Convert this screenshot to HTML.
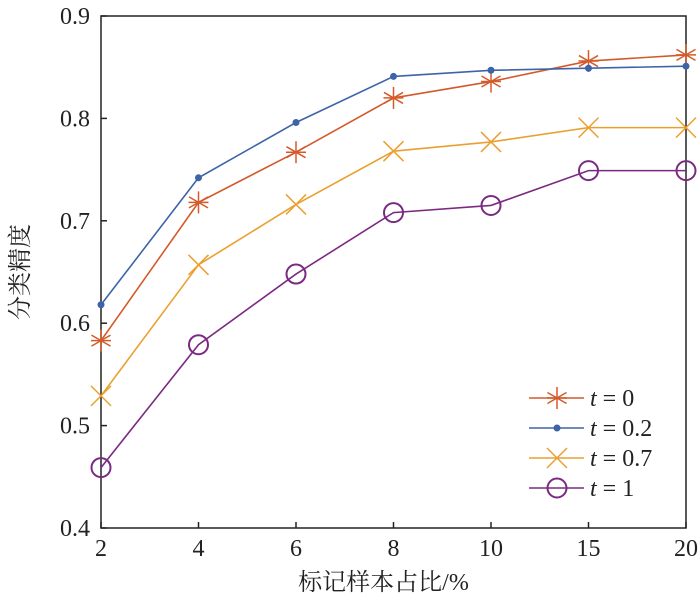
<!DOCTYPE html>
<html><head><meta charset="utf-8"><style>
body{margin:0;background:#fff}
svg text{font-family:"Liberation Serif","Noto Serif CJK SC",serif;font-size:24px;fill:#222}
</style></head><body>
<svg id="chart" width="700" height="604" viewBox="0 0 700 604" xmlns="http://www.w3.org/2000/svg">
<g id="plot"></g>
</svg>
<script>
const categories=["2","4","6","8","10","15","20"];
const yTicks=[0.4,0.5,0.6,0.7,0.8,0.9];
const seriesT0=[0.583,0.718,0.767,0.820,0.836,0.856,0.862];
const seriesT02=[0.618,0.742,0.796,0.841,0.847,0.849,0.851];
const seriesT07=[0.529,0.657,0.716,0.768,0.777,0.791,0.791];
const seriesT1=[0.459,0.579,0.648,0.708,0.715,0.749,0.749];
const seriesLabels=["0","0.2","0.7","1"];

const L=101,R=686,T=16,B=528;
const xs=i=>L+i*(R-L)/(categories.length-1);
const ys=v=>B-(v-0.4)/0.5*(B-T);
const NS="http://www.w3.org/2000/svg";
const g=document.getElementById('plot');
function mk(tag,attrs,parent){const e=document.createElementNS(NS,tag);for(const k in attrs)e.setAttribute(k,attrs[k]);(parent||g).appendChild(e);return e;}

const frame=mk('rect',{x:L,y:T,width:R-L,height:B-T,fill:'none',stroke:'#222','stroke-width':1.5});


categories.forEach((c,i)=>{
  const t=mk('line',{x1:xs(i),x2:xs(i),y1:B,y2:B-6,stroke:'#222','stroke-width':1.5});
  
  
  const tx=mk('text',{x:xs(i),y:B+28,'text-anchor':'middle'});tx.textContent=c;
  
  
});
yTicks.forEach(v=>{
  const t=mk('line',{x1:L,x2:L+6,y1:ys(v),y2:ys(v),stroke:'#222','stroke-width':1.5});
  
  
  const tx=mk('text',{x:L-11,y:ys(v)+8,'text-anchor':'end'});tx.textContent=v.toFixed(1);
  
  
});
const xt=mk('text',{x:(L+R)/2-10,y:590,'text-anchor':'middle'});xt.textContent='标记样本占比/%';


const yt=mk('text',{x:0,y:0,'text-anchor':'middle',transform:`translate(28,${(T+B)/2}) rotate(-90)`});yt.textContent='分类精度';



const colors=['#d45a2a','#3e64a8','#eaa030','#7b2a82'];
const types=['star','dot','x','circle'];
function marker(type,x,y,c,p){
  if(type==='star'){
    for(const a of [0,60,120]){const r=a*Math.PI/180;mk('line',{x1:x-11*Math.sin(r),y1:y-11*Math.cos(r),x2:x+11*Math.sin(r),y2:y+11*Math.cos(r),stroke:c,'stroke-width':1.5},p);}
    mk('line',{x1:x-10,y1:y,x2:x+10,y2:y,stroke:c,'stroke-width':1.5},p);
  }else if(type==='dot'){mk('circle',{cx:x,cy:y,r:3.5,fill:c},p);}
  else if(type==='x'){mk('line',{x1:x-10,y1:y-10,x2:x+10,y2:y+10,stroke:c,'stroke-width':1.5},p);mk('line',{x1:x-10,y1:y+10,x2:x+10,y2:y-10,stroke:c,'stroke-width':1.5},p);}
  else{mk('circle',{cx:x,cy:y,r:9.5,fill:'none',stroke:c,'stroke-width':2},p);}
}
[seriesT0,seriesT02,seriesT07,seriesT1].forEach((s,k)=>{
  const sg=mk('g',{});
  
  
  mk('polyline',{points:s.map((v,i)=>xs(i)+','+ys(v)).join(' '),fill:'none',stroke:colors[k],'stroke-width':1.6},sg);
  s.forEach((v,i)=>marker(types[k],xs(i),ys(v),colors[k],sg));
  const ly=398+k*30;
  const lg=mk('g',{});
  
  
  mk('line',{x1:529,x2:584,y1:ly,y2:ly,stroke:colors[k],'stroke-width':1.6},lg);
  marker(types[k],557,ly,colors[k],lg);
  const tx=mk('text',{x:590,y:ly+8},lg);
  tx.innerHTML='<tspan font-style="italic">t</tspan> = '+seriesLabels[k];
});
</script>
</body></html>
